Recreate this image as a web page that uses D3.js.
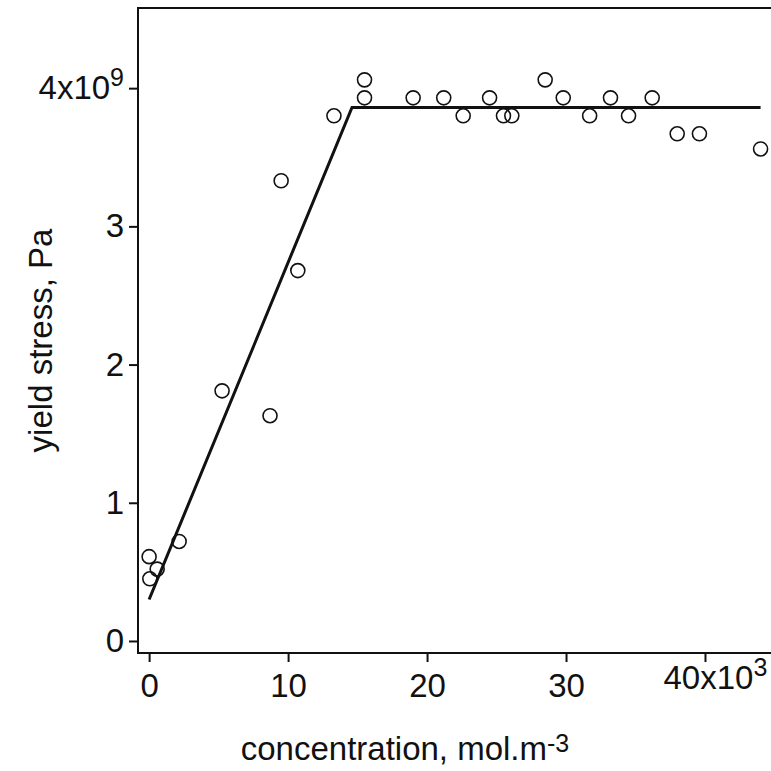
<!DOCTYPE html>
<html lang="en">
<head>
<meta charset="utf-8">
<script src="https://d3js.org/d3.v7.min.js"></script>
<style>
  html, body { margin: 0; padding: 0; background: white; }
  text { font-family: "Liberation Sans", Arial, sans-serif; fill: #111; }
</style>
</head>
<body>
<div id="chart"></div>
<script>
// concentration (x10^3 mol.m^-3) and yield stress (x10^9 Pa)
const concentration = [0, 0.05, 0.58, 2.16, 5.25, 8.7, 9.5, 10.7, 13.3, 15.5, 15.5, 19.0, 21.2, 22.6, 24.5, 25.5, 26.1, 28.5, 29.8, 31.7, 33.2, 34.5, 36.2, 38.0, 39.6, 44.0];
const yieldStress   = [0.61, 0.45, 0.52, 0.72, 1.81, 1.63, 3.33, 2.68, 3.80, 3.93, 4.06, 3.93, 3.93, 3.80, 3.93, 3.80, 3.80, 4.06, 3.93, 3.80, 3.93, 3.80, 3.93, 3.67, 3.67, 3.56];
const fitX = [0, 14.6, 44.0];
const fitY = [0.30, 3.86, 3.86];
const xTicks = [0, 10, 20, 30, 40];
const xTickLabels = ["0", "10", "20", "30", "40x10"];
const yTicks = [0, 1, 2, 3, 4];
const yTickLabels = ["0", "1", "2", "3", "4x10"];

const W = 771, H = 771;
const mLeft = 138, mRight = 771, mTop = 8, mBottom = 653;
const fs = "33px";

const x = d3.scaleLinear().domain([-0.8, 44.75]).range([mLeft, mRight]);
const y = d3.scaleLinear().domain([-0.087, 4.58]).range([mBottom, mTop]);

const svg = d3.select("#chart").append("svg").attr("width", W).attr("height", H);

// frame
svg.append("path")
  .attr("d", `M${mRight},${mTop}H${mLeft}V${mBottom}H${mRight}`)
  .attr("fill", "none").attr("stroke", "#111").attr("stroke-width", 2);

// x axis
const xg = svg.append("g").attr("transform", `translate(0,${mBottom})`)
  .call(d3.axisBottom(x).tickValues(xTicks).tickSize(9).tickFormat((d, i) => xTickLabels[i]));
xg.select(".domain").remove();
xg.selectAll("line").attr("stroke", "#111").attr("stroke-width", 2);
xg.selectAll("text").style("font-size", fs).attr("y", 16).attr("dy", "0.85em");
const x40 = xg.selectAll(".tick").filter(d => d === 40).select("text")
  .attr("dy", "0.6em").attr("dx", "0.3em");
x40.append("tspan").attr("dy", "-13").style("font-size", "25px").text("3");

// y axis
const yg = svg.append("g").attr("transform", `translate(${mLeft},0)`)
  .call(d3.axisLeft(y).tickValues(yTicks).tickSize(9).tickFormat((d, i) => yTickLabels[i]));
yg.select(".domain").remove();
yg.selectAll("line").attr("stroke", "#111").attr("stroke-width", 2);
yg.selectAll("text").style("font-size", fs).attr("x", -14);
const y4 = yg.selectAll(".tick").filter(d => d === 4).select("text");
y4.append("tspan").attr("dy", "-13").style("font-size", "25px").text("9");

// fit line
svg.append("path")
  .datum(fitX.map((d, i) => [d, fitY[i]]))
  .attr("d", d3.line().x(d => x(d[0])).y(d => y(d[1])))
  .attr("fill", "none").attr("stroke", "#111").attr("stroke-width", 3);

// points
svg.selectAll("circle.pt")
  .data(concentration.map((d, i) => [d, yieldStress[i]]))
  .join("circle")
    .attr("class", "pt")
    .attr("cx", d => x(d[0]))
    .attr("cy", d => y(d[1]))
    .attr("r", 7)
    .attr("fill", "none").attr("stroke", "#111").attr("stroke-width", 1.6);

// axis titles
const xt = svg.append("text").attr("x", 405).attr("y", 760)
  .attr("text-anchor", "middle").style("font-size", fs);
xt.append("tspan").text("concentration, mol.m");
xt.append("tspan").attr("dy", "-8").style("font-size", "25px").text("-3");

svg.append("text")
  .attr("transform", `translate(52,${(mTop + mBottom) / 2 + 10}) rotate(-90)`)
  .attr("text-anchor", "middle").style("font-size", fs)
  .text("yield stress, Pa");
</script>
</body>
</html>
